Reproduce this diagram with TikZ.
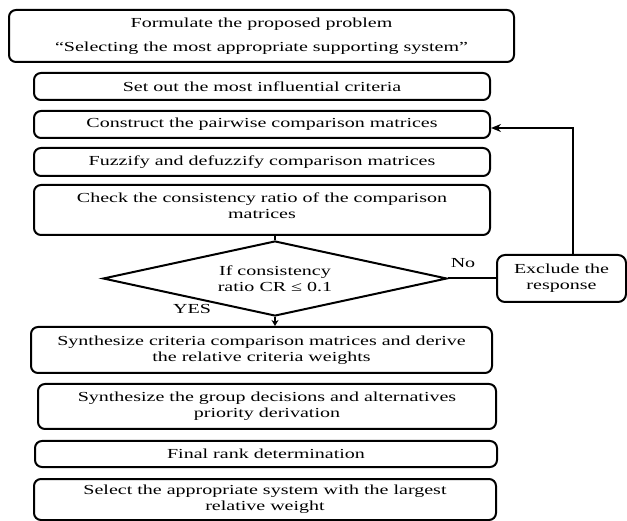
\documentclass[tikz,border=0pt]{standalone}
\usepackage{fontspec}
\setmainfont{Liberation Serif}[FakeStretch=1.45]
\usetikzlibrary{shapes.geometric,arrows.meta}
\begin{document}
\begin{tikzpicture}[x=1pt,y=-1pt,
  txt/.style={font=\fontsize{13.8}{16}\selectfont},
  box/.style={draw, line width=2pt, rounded corners=7pt, align=center, inner sep=0pt, txt},
  conn/.style={line width=2pt},
  arr/.style={line width=2pt, -{Stealth[length=10pt,width=8pt]}},
  lbl/.style={txt, inner sep=0pt}]
\useasboundingbox (0,0) rectangle (627,521);
\node[box, minimum width=505pt, minimum height=52pt] (b1) at (261.5,36)
  {Formulate the proposed problem\\[8pt]“Selecting the most appropriate supporting system”};
\node[box, minimum width=456pt, minimum height=27pt] (b2) at (262,86.5)
  {Set out the most influential criteria};
\node[box, minimum width=456pt, minimum height=27pt] (b3) at (262,124.5)
  {Construct the pairwise comparison matrices};
\node[box, minimum width=456pt, minimum height=28pt] (b4) at (262,162)
  {Fuzzify and defuzzify comparison matrices};
\node[box, minimum width=456pt, minimum height=50pt] (b5) at (262,210)
  {Check the consistency ratio of the comparison\\matrices\\[-7pt]\mbox{}};
\node[draw, diamond, aspect=4.6, minimum width=344pt, minimum height=75pt,
  inner sep=0pt, line width=2pt, align=center, txt] (d) at (275,278.5)
  {If consistency\\ratio CR ≤ 0.1};
\node[box, rounded corners=8pt, minimum width=129pt, minimum height=47pt] (ex) at (561.5,278.5)
  {Exclude the\\response};
\node[box, minimum width=461pt, minimum height=46pt] (b6) at (261.5,350)
  {Synthesize criteria comparison matrices and derive\\the relative criteria weights};
\node[box, minimum width=458pt, minimum height=45pt] (b7) at (267,406.5)
  {Synthesize the group decisions and alternatives\\priority derivation};
\node[box, minimum width=462pt, minimum height=26pt] (b8) at (266,454)
  {Final rank determination};
\node[box, minimum width=462pt, minimum height=41pt] (b9) at (265,499.5)
  {Select the appropriate system with the largest\\relative weight};
\node[lbl] (no) at (463,263) {No};
\node[lbl] (yes) at (192,309) {YES};
\coordinate (turn) at (573,128);
\draw[conn] (b5.south -| d.north) -- (d.north);
\draw[line width=2pt, -{Stealth[length=6pt,width=7pt]}] (d.south) -- (b6.north -| d.south);
\draw[conn] (d.east) -- (ex.west);
\draw[arr] (ex.north -| turn) -- (turn) -- (b3.east |- turn);
\end{tikzpicture}
\end{document}
